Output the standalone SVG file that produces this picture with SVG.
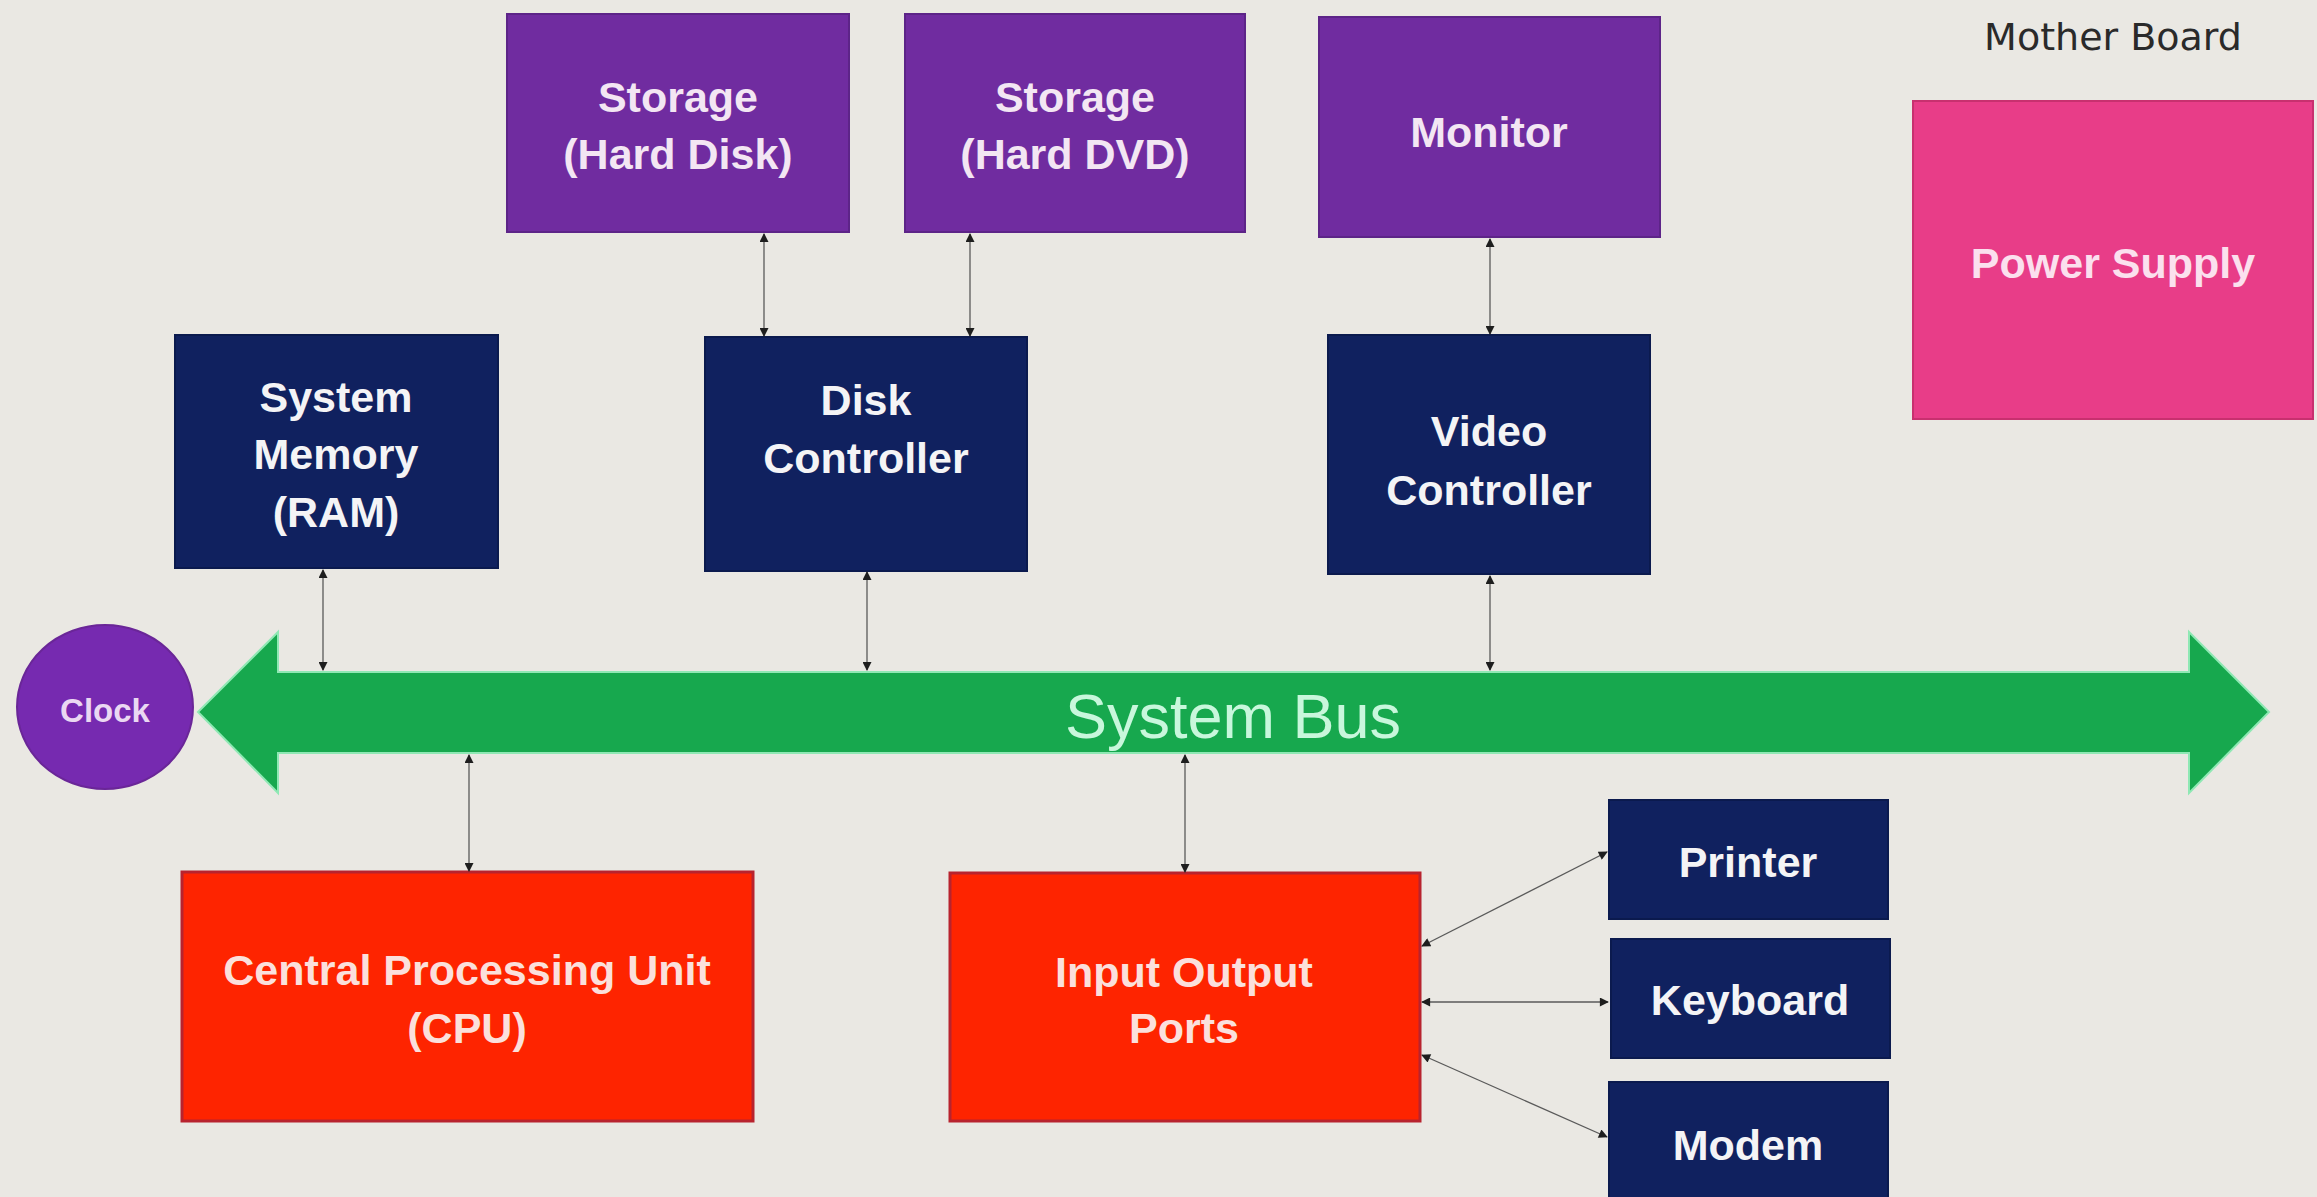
<svg xmlns="http://www.w3.org/2000/svg" width="2317" height="1197" viewBox="0 0 2317 1197">
<style>
.purple{fill:#702ca0;stroke:#5d2488;stroke-width:2}
.navy{fill:#10215f;stroke:#0b1a4e;stroke-width:2}
.red{fill:#fe2400;stroke:#b8232e;stroke-width:3}
.pink{fill:#e83d88;stroke:#c8306f;stroke-width:2}
.lbl{font-family:"Liberation Sans",Arial,sans-serif;font-weight:bold;font-size:43px;text-anchor:middle}
.wp{fill:#f3e6f3}
.wn{fill:#f4f4f6}
.wr{fill:#fbe0dc}
.conn line{stroke:#5a5a5a;stroke-width:1.3;marker-start:url(#ah);marker-end:url(#ah)}
</style>
<defs>
<marker id="ah" viewBox="0 0 10 10" refX="9" refY="5" markerWidth="11" markerHeight="9" markerUnits="userSpaceOnUse" orient="auto-start-reverse">
<path d="M0,0 L10,5 L0,10 z" fill="#1e1e1e"/>
</marker>
</defs>
<rect x="0" y="0" width="2317" height="1197" fill="#eae8e3"/>

<g id="mother-board-title">
<text x="2113" y="50" style="font-family:'DejaVu Sans',sans-serif;font-size:38px;text-anchor:middle" fill="#2a2a2a">Mother Board</text>
</g>

<g id="storage-hard-disk">
<rect class="purple" x="507" y="14" width="342" height="218"/>
<text class="lbl wp" x="678" y="112">Storage</text>
<text class="lbl wp" x="678" y="169">(Hard Disk)</text>
</g>

<g id="storage-hard-dvd">
<rect class="purple" x="905" y="14" width="340" height="218"/>
<text class="lbl wp" x="1075" y="112">Storage</text>
<text class="lbl wp" x="1075" y="169">(Hard DVD)</text>
</g>

<g id="monitor">
<rect class="purple" x="1319" y="17" width="341" height="220"/>
<text class="lbl wp" x="1489" y="147">Monitor</text>
</g>

<g id="power-supply">
<rect class="pink" x="1913" y="101" width="400" height="318"/>
<text class="lbl" fill="#fbe0ee" x="2113" y="278">Power Supply</text>
</g>

<g id="system-memory">
<rect class="navy" x="175" y="335" width="323" height="233"/>
<text class="lbl wn" x="336" y="412">System</text>
<text class="lbl wn" x="336" y="469">Memory</text>
<text class="lbl wn" x="336" y="527">(RAM)</text>
</g>

<g id="disk-controller">
<rect class="navy" x="705" y="337" width="322" height="234"/>
<text class="lbl wn" x="866" y="415">Disk</text>
<text class="lbl wn" x="866" y="473">Controller</text>
</g>

<g id="video-controller">
<rect class="navy" x="1328" y="335" width="322" height="239"/>
<text class="lbl wn" x="1489" y="446">Video</text>
<text class="lbl wn" x="1489" y="505">Controller</text>
</g>

<g id="clock">
<ellipse cx="105" cy="707" rx="88" ry="82" fill="#762ab0" stroke="#6a2698" stroke-width="2"/>
<text x="105" y="722" style="font-family:'Liberation Sans',Arial,sans-serif;font-weight:bold;font-size:33px;text-anchor:middle" fill="#ead8f2">Clock</text>
</g>

<g id="system-bus">
<polygon points="198,712 278,632 278,672 2189,672 2189,632 2269,712 2189,793 2189,753 278,753 278,793" fill="#17a84e" stroke="#8fe8b4" stroke-width="2" stroke-linejoin="miter"/>
<text x="1233" y="738" style="font-family:'Liberation Sans',Arial,sans-serif;font-size:63px;text-anchor:middle" fill="#c8f7dc">System Bus</text>
</g>

<g id="cpu">
<rect class="red" x="182" y="872" width="571" height="249"/>
<text class="lbl wr" x="467" y="985">Central Processing Unit</text>
<text class="lbl wr" x="467" y="1043">(CPU)</text>
</g>

<g id="io-ports">
<rect class="red" x="950" y="873" width="470" height="248"/>
<text class="lbl wr" x="1184" y="987">Input Output</text>
<text class="lbl wr" x="1184" y="1043">Ports</text>
</g>

<g id="printer">
<rect class="navy" x="1609" y="800" width="279" height="119"/>
<text class="lbl wn" x="1748" y="877">Printer</text>
</g>

<g id="keyboard">
<rect class="navy" x="1611" y="939" width="279" height="119"/>
<text class="lbl wn" x="1750" y="1015">Keyboard</text>
</g>

<g id="modem">
<rect class="navy" x="1609" y="1082" width="279" height="130"/>
<text class="lbl wn" x="1748" y="1160">Modem</text>
</g>

<g id="connectors" class="conn">
<line x1="764" y1="234" x2="764" y2="336"/>
<line x1="970" y1="234" x2="970" y2="336"/>
<line x1="1490" y1="239" x2="1490" y2="334"/>
<line x1="323" y1="570" x2="323" y2="670"/>
<line x1="867" y1="572" x2="867" y2="670"/>
<line x1="1490" y1="576" x2="1490" y2="670"/>
<line x1="469" y1="755" x2="469" y2="871"/>
<line x1="1185" y1="755" x2="1185" y2="872"/>
<line x1="1422" y1="946" x2="1607" y2="852"/>
<line x1="1422" y1="1002" x2="1608" y2="1002"/>
<line x1="1422" y1="1055" x2="1607" y2="1137"/>
</g>
</svg>
